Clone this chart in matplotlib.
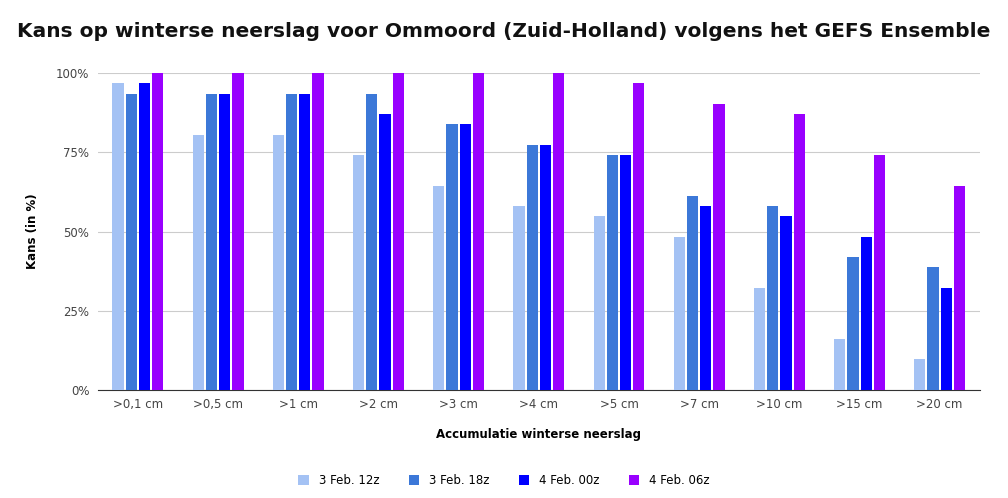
import matplotlib
matplotlib.use("Agg")
import matplotlib.pyplot as plt
import numpy as np

categories = [">0,1 cm", ">0,5 cm", ">1 cm", ">2 cm", ">3 cm", ">4 cm", ">5 cm", ">7 cm", ">10 cm", ">15 cm", ">20 cm"]
series_names = ["3 Feb. 12z", "3 Feb. 18z", "4 Feb. 00z", "4 Feb. 06z"]
s12 = [96.8, 80.6, 80.6, 74.2, 64.5, 58.1, 54.8, 48.4, 32.3, 16.1, 9.7]
s18 = [93.5, 93.5, 93.5, 93.5, 83.9, 77.4, 74.2, 61.3, 58.1, 41.9, 38.7]
s00 = [96.8, 93.5, 93.5, 87.1, 83.9, 77.4, 74.2, 58.1, 54.8, 48.4, 32.3]
s06 = [100, 100, 100, 100, 100, 100, 96.8, 90.3, 87.1, 74.2, 64.5]
colors = ["#a4c2f4", "#3c78d8", "#0000ff", "#9900ff"]

fig = plt.figure(figsize=(10.08, 4.98), dpi=100)
ax = fig.add_axes([0.097, 0.217, 0.875, 0.636])
x = np.arange(len(categories))
w = 0.14
step = 0.165
for i, (vals, c, n) in enumerate(zip([s12, s18, s00, s06], colors, series_names)):
    ax.bar(x + (i - 1.5) * step, vals, width=w, color=c, label=n, zorder=3)
ax.set_xlim(-0.5, len(categories) - 0.5)
ax.set_ylim(0, 100)
ax.set_yticks([0, 25, 50, 75, 100])
ax.set_yticklabels(["0%", "25%", "50%", "75%", "100%"], fontsize=8.5, color="#444444")
ax.set_xticks(x)
ax.set_xticklabels(categories, fontsize=8.5, color="#444444")
ax.grid(axis="y", color="#cccccc", linewidth=0.8, zorder=0)
for s in ["top", "right", "left"]:
    ax.spines[s].set_visible(False)
ax.spines["bottom"].set_color("#333333")
ax.tick_params(length=0, pad=6)
ax.set_ylabel("Kans (in %)", fontsize=8.5, fontweight="bold", labelpad=12)
ax.set_xlabel("Accumulatie winterse neerslag", fontsize=8.5, fontweight="bold", labelpad=12)
fig.suptitle("Kans op winterse neerslag voor Ommoord (Zuid-Holland) volgens het GEFS Ensemble",
             fontsize=14.5, fontweight="bold", x=0.5, y=0.955, color="#111111")
fig.legend(loc="lower center", ncol=4, frameon=False, fontsize=8.5, bbox_to_anchor=(0.5, 0.0),
           handlelength=0.9, handleheight=0.9, columnspacing=2.5)
fig.savefig("out.png", dpi=100, facecolor="white")
